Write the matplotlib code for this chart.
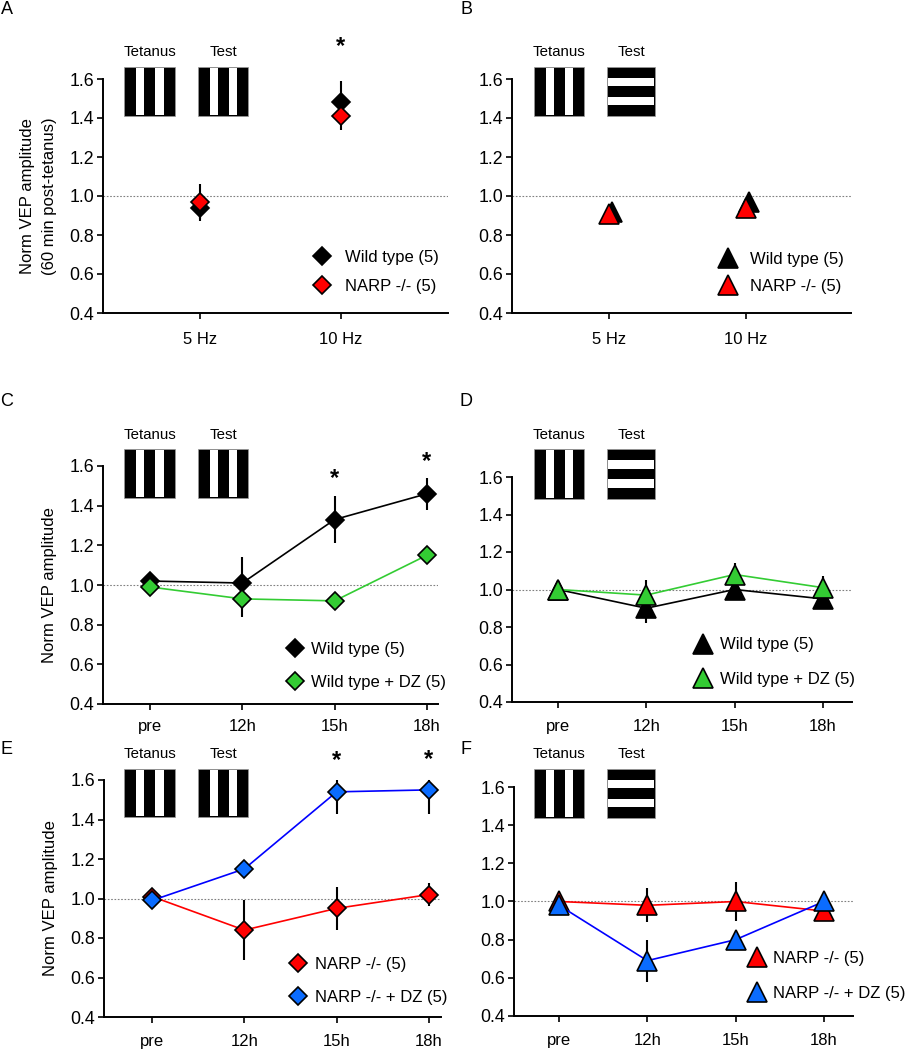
import matplotlib
matplotlib.use("Agg")
import matplotlib.pyplot as plt
from matplotlib.lines import Line2D
from matplotlib.patches import Rectangle
import numpy as np

plt.rcParams['font.family'] = ['Liberation Sans', 'DejaVu Sans']

# ---------------- data ----------------
freq_labels = ["5 Hz", "10 Hz"]
a_wt = [0.94, 1.48]
a_wt_err = [0.07, 0.11]
a_narp = [0.97, 1.41]
a_narp_err = [0.09, 0.07]
a_star_y = [None, 1.765]

b_wt = [0.92, 0.97]
b_wt_err = [0.03, 0.05]
b_narp = [0.91, 0.94]
b_narp_err = [0.02, 0.04]

time_labels = ["pre", "12h", "15h", "18h"]
c_wt = [1.02, 1.01, 1.33, 1.46]
c_wt_err = [0.02, 0.13, 0.12, 0.08]
c_wtdz = [0.99, 0.93, 0.92, 1.15]
c_wtdz_err = [0.02, 0.09, 0.02, 0.03]
c_star_y = [None, None, 1.535, 1.625]

d_wt = [1.0, 0.90, 1.0, 0.95]
d_wt_err = [0.02, 0.08, 0.05, 0.05]
d_wtdz = [1.0, 0.97, 1.08, 1.01]
d_wtdz_err = [0.02, 0.08, 0.06, 0.06]

e_narp = [1.01, 0.84, 0.95, 1.02]
e_narp_err = [0.02, 0.15, 0.11, 0.06]
e_narpdz = [0.99, 1.15, 1.54, 1.55]
e_narpdz_err = [0.02, 0.03, 0.11, 0.12]
e_star_y = [None, None, 1.70, 1.705]

f_narp = [1.0, 0.98, 1.0, 0.95]
f_narp_err = [0.02, 0.09, 0.10, 0.04]
f_narpdz = [0.98, 0.69, 0.80, 1.0]
f_narpdz_err = [0.02, 0.11, 0.03, 0.03]

y_ticks = [0.4, 0.6, 0.8, 1.0, 1.2, 1.4, 1.6]

# ---------------- styles ----------------
BLACK = "#000000"
RED = "#ff0000"
GREEN = "#33cc33"
BLUE_FILL = "#0a6cff"
BLUE_LINE = "#0000ff"

W, H = 908, 1050
fig = plt.figure(figsize=(W / 100, H / 100), dpi=100)


def fx(x):
    return x / W


def fy(y):
    return 1 - y / H


def make_ax(left, right, top, bottom, xlim, labels, xpad):
    ax = fig.add_axes([fx(left), fy(bottom), (right - left) / W, (bottom - top) / H])
    ax.set_xlim(*xlim)
    ax.set_ylim(0.4, 1.6)
    ax.set_yticks(y_ticks)
    ax.set_yticklabels([f"{v:.1f}" for v in y_ticks])
    ax.set_xticks(range(len(labels)))
    ax.set_xticklabels(labels)
    for s in ("top", "right"):
        ax.spines[s].set_visible(False)
    for s in ("left", "bottom"):
        ax.spines[s].set_linewidth(1.4)
    ax.tick_params(axis="y", direction="out", length=4.5, width=1.2, labelsize=12.8, pad=2)
    ax.tick_params(axis="x", direction="out", length=4, width=1.2, labelsize=12, pad=xpad)
    ax.axhline(1.0, color="#808080", lw=0.8, ls=(0, (1.5, 1.5)), zorder=1)
    return ax


def series(ax, y, err, marker, ms, fill, linecolor, z, connect=True, dx=0.0):
    xx = np.arange(len(y)) + dx
    ax.errorbar(xx, y, yerr=err, fmt="none", ecolor="black", elinewidth=1.5,
                capsize=0, zorder=z)
    ax.plot(xx, y, ls="-" if connect else "none", color=linecolor, lw=1.2,
            marker=marker, ms=ms, mfc=fill, mec="black", mew=1.2, zorder=z + 0.5,
            clip_on=False)


def stars(ax, ys):
    for i, v in enumerate(ys):
        if v is not None:
            ax.text(i, v, "*", ha="center", va="center", fontsize=17,
                    fontweight="bold", clip_on=False)


def legend(ax, entries, xh, xt, yc, spacing):
    fs = 12
    fpx = fs * 100 / 72
    handles = [Line2D([], [], ls="none", marker=m, ms=ms, mfc=c, mec="black", mew=1.2)
               for (m, ms, c, _) in entries]
    labels = [e[3] for e in entries]
    left = xh - 0.5 * fpx
    pad = (xt - (xh + 0.5 * fpx)) / fpx
    ax.legend(handles, labels, loc="center left",
              bbox_to_anchor=(fx(left), fy(yc)), bbox_transform=fig.transFigure,
              frameon=False, borderpad=0, borderaxespad=0, handlelength=1.0,
              handletextpad=pad, labelspacing=spacing, fontsize=fs, numpoints=1)


def grating(x, y, w, h, orient):
    fig.add_artist(Rectangle((fx(x), fy(y + h)), w / W, h / H, transform=fig.transFigure,
                             facecolor="black", edgecolor="#999999", lw=0.5))
    if orient == "v":
        for a, b in [(0.235, 0.40), (0.615, 0.785)]:
            fig.add_artist(Rectangle((fx(x + a * w), fy(y + h - 1)), (b - a) * w / W,
                                     (h - 2) / H, transform=fig.transFigure,
                                     facecolor="white", edgecolor="none"))
    else:
        for a, b in [(0.225, 0.39), (0.61, 0.775)]:
            fig.add_artist(Rectangle((fx(x + 1), fy(y + b * h)), (w - 2) / W,
                                     (b - a) * h / H, transform=fig.transFigure,
                                     facecolor="white", edgecolor="none"))


def stim(xs, y, h, text_y, test_orient):
    (x1, w1), (x2, w2) = xs
    grating(x1, y, w1, h, "v")
    grating(x2, y, w2, h, test_orient)
    fig.text(fx(x1 + w1 / 2), fy(text_y), "Tetanus", ha="center", va="center", fontsize=10.8)
    fig.text(fx(x2 + w2 / 2), fy(text_y), "Test", ha="center", va="center", fontsize=10.8)


D_MS = 9.5
T_MS = 14

# ---------------- Panel A ----------------
axA = make_ax(103, 448, 79, 313, (-0.688, 1.759), freq_labels, 10)
series(axA, a_wt, a_wt_err, "D", D_MS, BLACK, BLACK, 3, connect=False)
series(axA, a_narp, a_narp_err, "D", D_MS, RED, RED, 5, connect=False)
stars(axA, a_star_y)
axA.set_ylabel("Norm VEP amplitude\n(60 min post-tetanus)", fontsize=12, labelpad=9,
               linespacing=1.6)
legend(axA, [("D", D_MS, BLACK, "Wild type (5)"), ("D", D_MS, RED, "NARP -/- (5)")],
       322, 345, 272, 0.8)
stim([(124, 51), (198, 50)], 67, 49, 52, "v")

# ---------------- Panel B ----------------
axB = make_ax(512, 851, 79, 313, (-0.708, 1.766), freq_labels, 10)
series(axB, b_wt, b_wt_err, "^", T_MS, BLACK, BLACK, 3, connect=False, dx=0.02)
series(axB, b_narp, b_narp_err, "^", T_MS, RED, RED, 5, connect=False)
legend(axB, [("^", T_MS, BLACK, "Wild type (5)"), ("^", T_MS, RED, "NARP -/- (5)")],
       728, 750, 273, 0.74)
stim([(534, 50), (607, 48)], 67, 49, 52, "h")

# ---------------- Panel C ----------------
axC = make_ax(103, 438, 466, 704, (-0.51, 3.12), time_labels, 7)
series(axC, c_wt, c_wt_err, "D", D_MS, BLACK, BLACK, 3)
series(axC, c_wtdz, c_wtdz_err, "D", D_MS, GREEN, GREEN, 5)
stars(axC, c_star_y)
axC.set_ylabel("Norm VEP amplitude", fontsize=12, labelpad=9)
legend(axC, [("D", D_MS, BLACK, "Wild type (5)"), ("D", D_MS, GREEN, "Wild type + DZ (5)")],
       295, 311, 666, 1.04)
stim([(124, 51), (198, 50)], 449, 49, 435, "v")

# ---------------- Panel D ----------------
axD = make_ax(512, 852, 477, 702, (-0.52, 3.33), time_labels, 8)
series(axD, d_wt, d_wt_err, "^", T_MS, BLACK, BLACK, 3)
series(axD, d_wtdz, d_wtdz_err, "^", T_MS, GREEN, GREEN, 5)
legend(axD, [("^", T_MS, BLACK, "Wild type (5)"), ("^", T_MS, GREEN, "Wild type + DZ (5)")],
       703, 720, 662, 1.16)
stim([(534, 50), (607, 48)], 449, 50, 435, "h")

# ---------------- Panel E ----------------
axE = make_ax(104, 441, 780, 1017, (-0.52, 3.13), time_labels, 8)
series(axE, e_narp, e_narp_err, "D", D_MS, RED, RED, 3)
series(axE, e_narpdz, e_narpdz_err, "D", D_MS, BLUE_FILL, BLUE_LINE, 5)
stars(axE, e_star_y)
axE.set_ylabel("Norm VEP amplitude", fontsize=12, labelpad=9)
legend(axE, [("D", D_MS, RED, "NARP -/- (5)"), ("D", D_MS, BLUE_FILL, "NARP -/- + DZ (5)")],
       298, 315, 981, 1.04)
stim([(124, 51), (198, 50)], 769, 48, 754, "v")

# ---------------- Panel F ----------------
axF = make_ax(514, 853, 787, 1016, (-0.51, 3.33), time_labels, 8)
series(axF, f_narp, f_narp_err, "^", T_MS, RED, RED, 3)
series(axF, f_narpdz, f_narpdz_err, "^", T_MS, BLUE_FILL, BLUE_LINE, 5)
legend(axF, [("^", T_MS, RED, "NARP -/- (5)"), ("^", T_MS, BLUE_FILL, "NARP -/- + DZ (5)")],
       757, 773, 976, 1.22)
stim([(534, 50), (607, 48)], 769, 49, 754, "h")

# ---------------- panel letters ----------------
for letter, x, y in [("A", 7, 9), ("B", 466, 9), ("C", 7, 402), ("D", 466, 402),
                     ("E", 7, 750), ("F", 466, 750)]:
    fig.text(fx(x), fy(y), letter, ha="center", va="center", fontsize=13)

fig.savefig("out.png", dpi=100)
